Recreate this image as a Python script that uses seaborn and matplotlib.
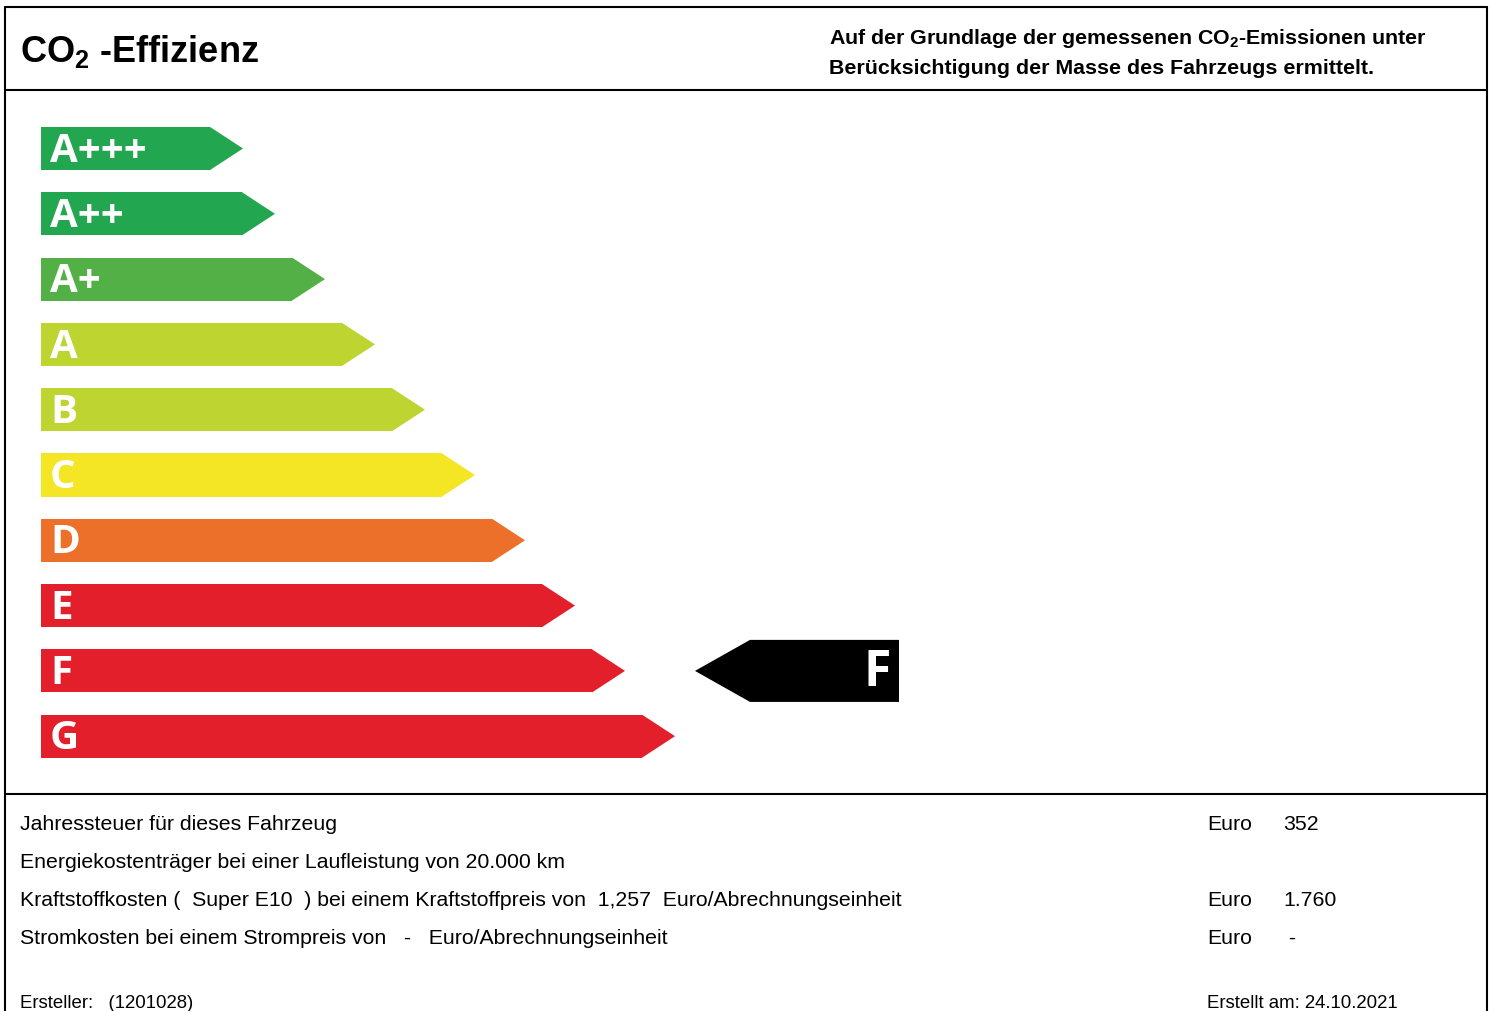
import matplotlib
matplotlib.use("Agg")
import matplotlib.pyplot as plt
from matplotlib.patches import Polygon
import seaborn as sns

# efficiency classes and their bar lengths (px, body without arrow tip)
classes = ["A+++", "A++", "A+", "A", "B", "C", "D", "E", "F", "G"]
lengths = [169, 201, 251, 301, 351, 401, 451, 501, 551, 601]
colors = ["#22a650", "#22a650", "#52b047", "#bdd431", "#bdd431",
          "#f5e625", "#ec7029", "#e41f2c", "#e41f2c", "#e41f2c"]
rating = "F"

# cost rows
row_labels = [
    "Jahressteuer für dieses Fahrzeug",
    "Energiekostenträger bei einer Laufleistung von 20.000 km",
    "Kraftstoffkosten (  Super E10  ) bei einem Kraftstoffpreis von  1,257  Euro/Abrechnungseinheit",
    "Stromkosten bei einem Strompreis von   -   Euro/Abrechnungseinheit",
]
row_units = ["Euro", "", "Euro", "Euro"]
row_values = ["352", "", "1.760", " -"]

sns.set_theme(style="white")
plt.rcParams["font.family"] = ["Liberation Sans", "DejaVu Sans"]
plt.rcParams["text.color"] = "black"
plt.rcParams["mathtext.fontset"] = "custom"
plt.rcParams["mathtext.rm"] = "Liberation Sans:bold"
plt.rcParams["mathtext.bf"] = "Liberation Sans:bold"

W, H = 1491, 1011
fig = plt.figure(figsize=(W / 100, H / 100), dpi=100)
fig.patch.set_facecolor("white")

# background axes in pixel coordinates for frame and text
bg = fig.add_axes([0, 0, 1, 1])
bg.set_xlim(0, W)
bg.set_ylim(H, 0)
bg.axis("off")

lw = 1.5
bg.plot([5, 5], [7, H + 5], color="black", lw=lw)
bg.plot([1487, 1487], [7, H + 5], color="black", lw=lw)
bg.plot([5, 1487], [7, 7], color="black", lw=lw)
bg.plot([5, 1487], [90, 90], color="black", lw=lw)
bg.plot([5, 1487], [794, 794], color="black", lw=lw)

bg.text(20, 52, r"CO$_\mathbf{2}$ -Effizienz", fontsize=26, fontweight="bold",
        va="center", ha="left")
bg.text(829, 38, r"Auf der Grundlage der gemessenen CO$_\mathbf{2}$-Emissionen unter",
        fontsize=15.4, fontweight="bold", va="center", ha="left")
bg.text(829, 68, "Berücksichtigung der Masse des Fahrzeugs ermittelt.",
        fontsize=15.4, fontweight="bold", va="center", ha="left")

for i, (lab, unit, val) in enumerate(zip(row_labels, row_units, row_values)):
    y = 825 + 38 * i
    bg.text(20, y, lab, fontsize=15.35, va="center", ha="left")
    bg.text(1207, y, unit, fontsize=15.35, va="center", ha="left")
    bg.text(1283, y, val, fontsize=15.35, va="center", ha="left")

bg.text(20, 1004, "Ersteller:   (1201028)", fontsize=13.4, va="center", ha="left")
bg.text(1207, 1004, "Erstellt am: 24.10.2021", fontsize=13.4, va="center", ha="left")

# bar axes: x in pixels from left edge of bars, y categorical
pitch = 65.3
top = 148.5 - pitch / 2
bottom = top + pitch * len(classes)
left = 41
aw = 1000
ax = fig.add_axes([left / W, 1 - bottom / H, aw / W, (bottom - top) / H])
sns.barplot(x=lengths, y=classes, hue=classes, palette=colors, legend=False,
            orient="h", width=0.66, saturation=1, linewidth=0, ax=ax)
ax.set_xlim(0, aw)
ax.set_ylim(len(classes) - 0.5, -0.5)
ax.axis("off")

tip = 33
for i, (length, c) in enumerate(zip(lengths, colors)):
    y0, y1 = i - 0.33, i + 0.33
    ax.add_patch(Polygon([(length, y0), (length + tip, i), (length, y1)],
                         closed=True, facecolor=c, edgecolor="none"))
    ax.text(9, i + 0.04, classes[i], color="white", fontsize=29,
            fontweight="bold", family="Open Sans", va="center", ha="left")

# rating indicator arrow
r = classes.index(rating)
x_tip, x_body, x_end = 654, 709, 858
h = 0.475
ax.add_patch(Polygon([(x_tip, r), (x_body, r - h), (x_end, r - h), (x_end, r + h), (x_body, r + h)],
                     closed=True, facecolor="black", edgecolor="none"))
ax.text(x_end - 8, r + 0.03, rating, color="white", fontsize=36, fontweight="bold",
        family="Open Sans", va="center", ha="right")

fig.savefig("out.png", dpi=100, facecolor="white")
